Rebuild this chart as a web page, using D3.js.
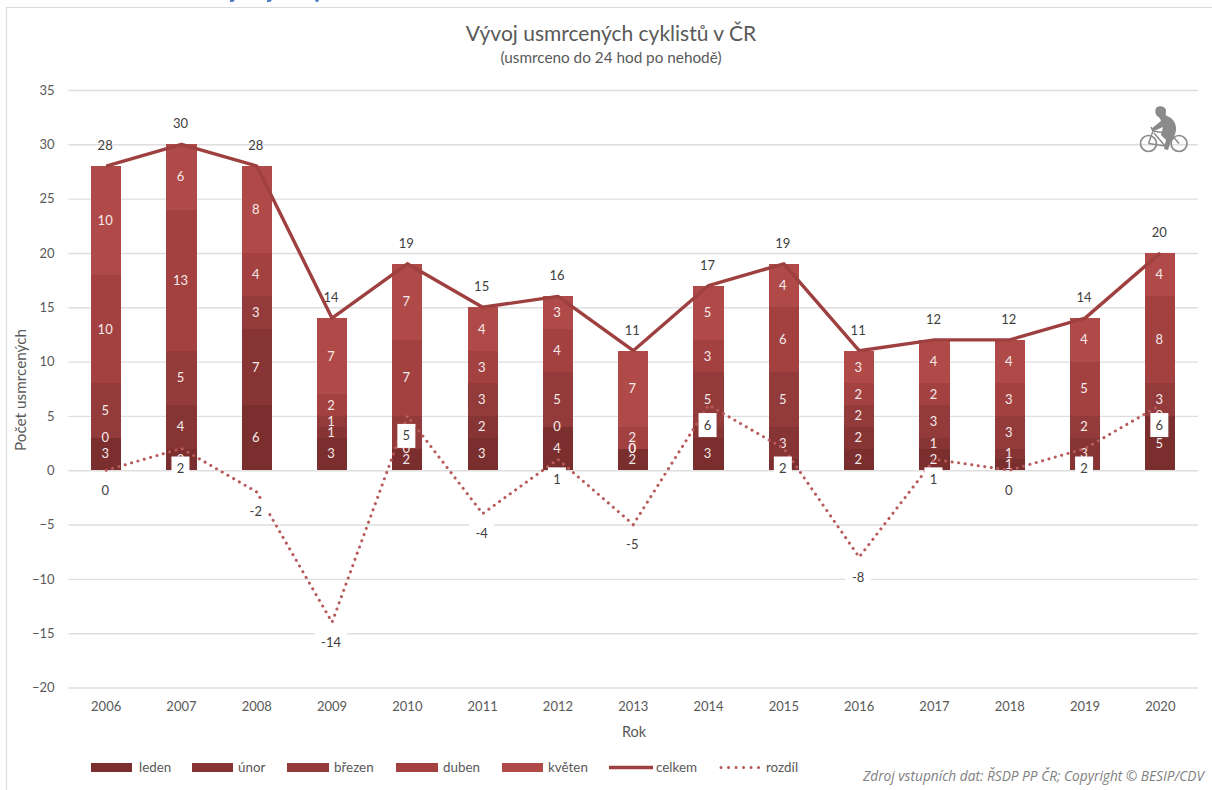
<!DOCTYPE html>
<html><head><meta charset="utf-8">
<script src="https://cdn.jsdelivr.net/npm/d3@7/dist/d3.min.js"></script>
<style>html,body{margin:0;padding:0;background:#fff}svg{display:block}text{font-family:Lato,"Noto Sans",sans-serif}</style>
</head><body><svg id="c" width="1212" height="790"></svg>
<script>
const years=["2006","2007","2008","2009","2010","2011","2012","2013","2014","2015","2016","2017","2018","2019","2020"];
const leden=[3,2,6,3,2,3,4,2,3,1,2,2,1,0,5];
const unor=[0,4,7,1,0,2,0,0,1,3,2,1,1,3,0];
const brezen=[5,5,3,1,3,3,5,0,5,5,2,3,3,2,3];
const duben=[10,13,4,2,7,3,4,2,3,6,2,2,3,5,8];
const kveten=[10,6,8,7,7,4,3,7,5,4,3,4,4,4,4];
const celkem=[28,30,28,14,19,15,16,11,17,19,11,12,12,14,20];
const rozdil=[0,2,-2,-14,5,-4,1,-5,6,2,-8,1,0,2,6];
const seriesNames=["leden","únor","březen","duben","květen"];
const seriesColors=["#7a2e2e","#873434","#933a3a","#a34141","#b04a48"];
const yTicks=[35,30,25,20,15,10,5,0,-5,-10,-15,-20];

const svg=d3.select("#c");
const rows=years.map((y,i)=>({year:y,leden:leden[i],"únor":unor[i],"březen":brezen[i],duben:duben[i],"květen":kveten[i]}));
const x=d3.scaleBand().domain(years).range([68.5,1198]).paddingInner(0.6).paddingOuter(0.3);
const c=y=>x(y)+x.bandwidth()/2;
const yS=d3.scaleLinear().domain([-20,35]).range([687.5,90]);
const stack=d3.stack().keys(seriesNames)(rows);

// frame and the cut-off text remnants on the top edge
svg.append("path").attr("d","M6.5 790V7.5H1212").attr("fill","none").attr("stroke","#dcdcdc").attr("stroke-width",1.2);
svg.append("path").attr("d","M230 0h5l-2 2h-3zM267 0h5l-2 2h-3zM315 0h4l-1 2h-2z").attr("fill","#4f7fc4");

// grid
const gy=svg.append("g").attr("transform","translate(68.5,0)")
  .call(d3.axisLeft(yS).tickValues(yTicks).tickSize(-1129.5).tickPadding(14));
gy.select(".domain").remove();
gy.selectAll(".tick line").attr("stroke","#dedede").attr("stroke-width",1.4);
gy.selectAll(".tick text").attr("fill","#595959").attr("font-size",13).style("font-family","Lato");

// x labels
const gx=svg.append("g").attr("transform","translate(0,687.5)")
  .call(d3.axisBottom(x).tickSize(0).tickPadding(14));
gx.select(".domain").remove();
gx.selectAll(".tick text").attr("fill","#595959").attr("font-size",13).style("font-family","Lato");

// bars
svg.append("g").attr("shape-rendering","crispEdges").selectAll("g").data(stack).join("g").attr("fill",(d,i)=>seriesColors[i])
 .selectAll("rect").data(d=>d).join("rect")
 .attr("x",d=>x(d.data.year)).attr("width",x.bandwidth())
 .attr("y",d=>yS(d[1])).attr("height",d=>yS(d[0])-yS(d[1]));

// bar labels
const lab=svg.append("g").attr("text-anchor","middle").attr("font-size",13).attr("fill","#f5eaea");
stack.forEach(s=>{
  lab.selectAll(null).data(s).join("text")
   .attr("x",d=>c(d.data.year)-1).attr("y",d=>(yS(d[0])+yS(d[1]))/2+4.5)
   .text(d=>d[1]-d[0]);
});

// lines
const line=d3.line().x((d,i)=>c(years[i])).y(d=>yS(d));
svg.append("path").datum(celkem).attr("d",line).attr("fill","none").attr("stroke","#9f4040").attr("stroke-width",3.4).attr("stroke-linejoin","round");
svg.append("path").datum(rozdil).attr("d",line).attr("fill","none").attr("stroke","#b85a5a").attr("stroke-width",3).attr("stroke-linecap","round").attr("stroke-dasharray","0.1 6.5");

// totals
svg.append("g").attr("text-anchor","middle").attr("font-size",13).attr("fill","#404040")
 .selectAll("text").data(celkem).join("text")
 .attr("x",(d,i)=>c(years[i])-1).attr("y",d=>yS(d)-16).text(d=>d);

// difference labels
const dl=svg.append("g").selectAll("g").data(rozdil).join("g")
 .attr("transform",(d,i)=>`translate(${c(years[i])-1},${yS(d)+20})`);
dl.append("rect").attr("x",d=>-(String(d).length*3.5+5.5)).attr("y",-12)
 .attr("width",d=>2*(String(d).length*3.5+5.5)).attr("height",24).attr("fill","#fff");
dl.append("text").attr("text-anchor","middle").attr("y",4.5).attr("font-size",13).attr("fill","#404040").text(d=>d);

// titles
svg.append("text").attr("x",611).attr("y",41).attr("text-anchor","middle").attr("font-size",21).attr("fill","#595959").text("Vývoj usmrcených cyklistů v ČR");
svg.append("text").attr("x",611).attr("y",63).attr("text-anchor","middle").attr("font-size",15.3).attr("fill","#595959").text("(usmrceno do 24 hod po nehodě)");
svg.append("text").attr("x",634).attr("y",737).attr("text-anchor","middle").attr("font-size",14.5).attr("fill","#595959").text("Rok");
svg.append("text").attr("transform","translate(26,390) rotate(-90)").attr("text-anchor","middle").attr("font-size",15.3).attr("fill","#595959").text("Počet usmrcených");

// legend
const legendX=[[91,132,139],[192,233,238],[287,329,334],[396,438,443],[502,543,548]];
const lg=svg.append("g");
seriesNames.forEach((n,i)=>{
  lg.append("rect").attr("x",legendX[i][0]).attr("y",763).attr("width",legendX[i][1]-legendX[i][0]).attr("height",9).attr("fill",seriesColors[i]);
  lg.append("text").attr("x",legendX[i][2]).attr("y",772).attr("font-size",13.4).attr("fill","#595959").text(n);
});
lg.append("line").attr("x1",609).attr("x2",653).attr("y1",767.5).attr("y2",767.5).attr("stroke","#9f4040").attr("stroke-width",3.4);
lg.append("text").attr("x",656).attr("y",772).attr("font-size",13.4).attr("fill","#595959").text("celkem");
lg.append("line").attr("x1",721).attr("x2",760).attr("y1",767.5).attr("y2",767.5).attr("stroke","#b85a5a").attr("stroke-width",3).attr("stroke-linecap","round").attr("stroke-dasharray","0.1 7.4");
lg.append("text").attr("x",766).attr("y",772).attr("font-size",13.4).attr("fill","#595959").text("rozdíl");

// source
svg.append("text").attr("x",1204).attr("y",781).attr("text-anchor","end").attr("font-size",13.7).attr("font-style","italic").attr("fill","#7f7f7f").style("font-family","'Open Sans'").text("Zdroj vstupních dat: ŘSDP PP ČR; Copyright © BESIP/CDV");

// cyclist icon
const ic=svg.append("g").attr("transform","translate(1140,105)");
ic.append("circle").attr("cx",8.5).attr("cy",38.5).attr("r",8).attr("fill","none").attr("stroke","#8a8a8a").attr("stroke-width",1.7);
ic.append("circle").attr("cx",39).attr("cy",38.5).attr("r",8).attr("fill","none").attr("stroke","#8a8a8a").attr("stroke-width",1.7);
ic.append("path").attr("d","M8.5 38.5L13 26L31 29L39 38.5M14 28L25 41L31 29M25 41L8.5 38.5M13 26L11 22").attr("fill","none").attr("stroke","#8a8a8a").attr("stroke-width",1.5);
ic.append("path").attr("d","M16 3C19 0 25 1 26 5C26 8 25 10 27 11C33 13 36 18 36 24C36 30 33 32 31 36L28 45L24 44L26 35L21 30L23 22L14 26L11 24L21 16C20 13 19 12 17 11C15 9 15 5 16 3Z").attr("fill","#8a8a8a");
</script></body></html>
